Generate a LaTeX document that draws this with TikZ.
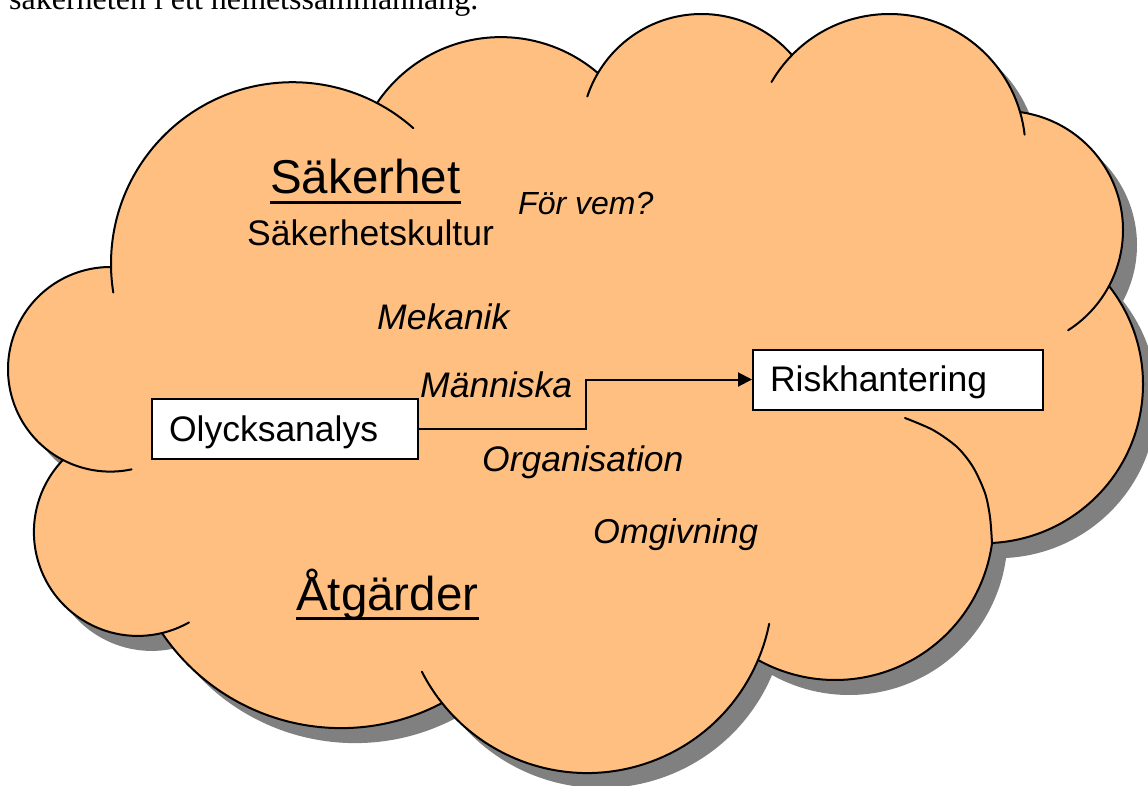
\documentclass[tikz,border=0pt]{standalone}
\usepackage{fontspec}
\setmainfont{Liberation Sans}
\newfontfamily\seriffont{Liberation Serif}
\usetikzlibrary{calc,arrows.meta}
\definecolor{cloudfill}{RGB}{255,191,128}
\definecolor{shadowgray}{RGB}{128,128,128}
\def\cloudpath{
 ({292.6+181.6*cos(179)},{263.8+181.6*sin(179)}) arc[start angle=179,end angle=297.7,radius=181.6pt]
 -- ({500.8+149.1*cos(213.9)},{186.2+149.1*sin(213.9)}) arc[start angle=213.9,end angle=310.65,radius=149.1pt]
 -- ({701.5+120.3*cos(210.6)},{134.3+120.3*sin(210.6)}) arc[start angle=210.6,end angle=318.8,radius=120.3pt]
 -- ({889.4+136.1*cos(224.3)},{150.1+136.1*sin(224.3)}) arc[start angle=224.3,end angle=343.7,radius=136.1pt]
 -- ({1004+119*cos(277.7)},{230+119*sin(277.7)}) arc[start angle=277.7,end angle=388.1,radius=119pt]
 -- ({984.1+158.9*cos(-38.2)},{384.25+158.9*sin(-38.2)}) arc[start angle=-38.2,end angle=87.15,radius=158.9pt]
 -- ({835.1+158.4*cos(7.8)},{521.6+158.4*sin(7.8)}) arc[start angle=7.8,end angle=119.1,radius=158.4pt]
 -- ({587.2+185.6*cos(23)},{587.4+185.6*sin(23)}) arc[start angle=23,end angle=141.5,radius=185.6pt]
 -- ({341+216*cos(62.1)},{512.1+216*sin(62.1)}) arc[start angle=62.1,end angle=146,radius=216pt]
 -- ({137.8+103.9*cos(76.5)},{532+103.9*sin(76.5)}) arc[start angle=76.5,end angle=223.9,radius=103.9pt]
 -- ({110.3+102.3*cos(117.5)},{369.3+102.3*sin(117.5)}) arc[start angle=117.5,end angle=270.4,radius=102.3pt]
 -- cycle}
\begin{document}
\begin{tikzpicture}[x=1pt,y=1pt,yscale=-1,
  outline/.style={draw=black,line width=2pt,line join=round},
  innerline/.style={draw=black,line width=2pt,line cap=round},
  lbl/.style={inner sep=0pt,anchor=base west,font=\fontsize{35.5}{40}\selectfont\itshape},
  bigtitle/.style={inner sep=0pt,anchor=base west,font=\fontsize{47.5}{56}\selectfont},
  ul/.style={line width=3pt},
  boxnode/.style={draw=black,fill=white,line width=2pt,inner xsep=17pt,inner ysep=0pt,
    minimum height=60pt,text height=26pt,text depth=2pt,align=left,
    font=\fontsize{35.5}{40}\selectfont},
  conn/.style={line width=2pt,-{Triangle[length=14pt,width=14pt]}}]
\useasboundingbox (0,0) rectangle (1148,785);
% caption fragment at top
\node[anchor=base west,inner sep=0pt,font=\seriffont\fontsize{32}{36}\selectfont] (toptext) at (9,9) {säkerheten i ett helhetssammanhang.};
% shadow
\begin{scope}[shift={(14,15)}]
  \fill[shadowgray] \cloudpath;
\end{scope}
% cloud
\path[outline,fill=cloudfill] \cloudpath;
% inner strokes
\draw[innerline] ({292.6+181.6*cos(170.9)},{263.8+181.6*sin(170.9)}) arc[start angle=170.9,end angle=179,radius=181.6pt];
\draw[innerline] ({292.6+181.6*cos(297.7)},{263.8+181.6*sin(297.7)}) arc[start angle=297.7,end angle=311.7,radius=181.6pt];
\draw[innerline] ({701.5+120.3*cos(198.3)},{134.3+120.3*sin(198.3)}) arc[start angle=198.3,end angle=210.6,radius=120.3pt];
\draw[innerline] ({889.4+136.1*cos(210)},{150.1+136.1*sin(210)}) arc[start angle=210,end angle=224.3,radius=136.1pt];
\draw[innerline] ({889.4+136.1*cos(343.7)},{150.1+136.1*sin(343.7)}) arc[start angle=343.7,end angle=353.5,radius=136.1pt];
\draw[innerline] ({1004+119*cos(28.1)},{230+119*sin(28.1)}) arc[start angle=28.1,end angle=57.4,radius=119pt];
\draw[innerline] plot[smooth] coordinates {(905,418) (933,430) (957,447) (973,467) (985,493) (990,517) (992,543)};
\draw[innerline] ({587.2+185.6*cos(11.3)},{587.4+185.6*sin(11.3)}) arc[start angle=11.3,end angle=23,radius=185.6pt];
\draw[innerline] ({587.2+185.6*cos(141.5)},{587.4+185.6*sin(141.5)}) arc[start angle=141.5,end angle=153,radius=185.6pt];
\draw[innerline] ({137.8+103.9*cos(60.5)},{532+103.9*sin(60.5)}) arc[start angle=60.5,end angle=76.5,radius=103.9pt];
\draw[innerline] ({110.3+102.3*cos(78)},{369.3+102.3*sin(78)}) arc[start angle=78,end angle=117.5,radius=102.3pt];
% texts
\node[bigtitle] (sak) at (270,193) {Säkerhet};
\draw[ul] ($(sak.base west)+(0,9.5)$) -- ($(sak.base east)+(0,9.5)$);
\node[inner sep=0pt,anchor=base west,font=\fontsize{35.5}{40}\selectfont] (kultur) at (247,245) {Säkerhetskultur};
\node[lbl,font=\fontsize{32}{36}\selectfont\itshape] (forvem) at (518,214) {För vem?};
\node[lbl] (mek) at (377,329) {Mekanik};
\node[lbl] (man) at (420,397) {Människa};
\node[lbl] (org) at (482,471) {Organisation};
\node[lbl,font=\fontsize{34.5}{40}\selectfont\itshape] (omg) at (593,543) {Omgivning};
\node[bigtitle] (atg) at (296,610) {Åtgärder};
\draw[ul] ($(atg.base west)+(0,8)$) -- ($(atg.base east)+(0,8)$);
% boxes
\node[boxnode,text width=232pt] (olyck) at (285,429) {Olycksanalys};
\node[boxnode,text width=256pt] (risk) at (898,379.5) {Riskhantering};
\draw[conn] (olyck.east) -| ($(olyck.east)!0.5!(risk.west)$) |- (risk.west);
\end{tikzpicture}
\end{document}
